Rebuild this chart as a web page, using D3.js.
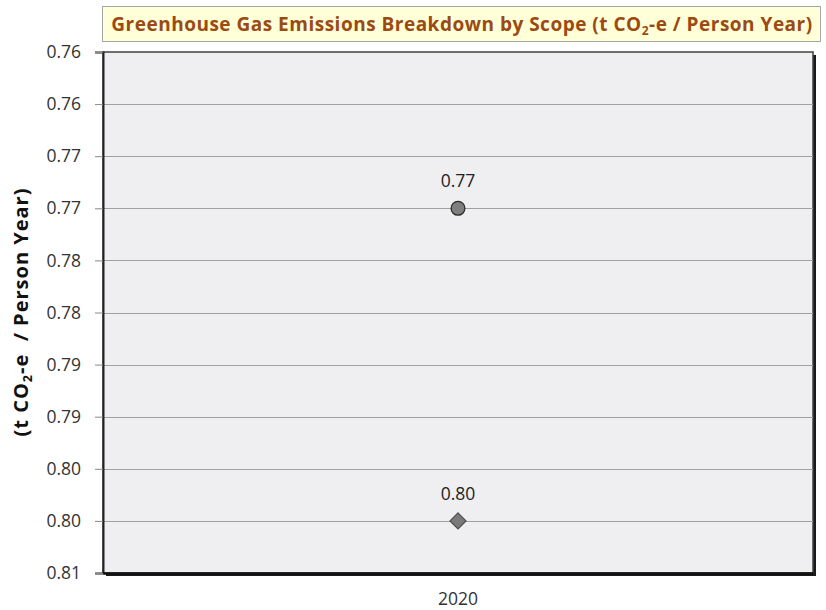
<!DOCTYPE html>
<html>
<head>
<meta charset="utf-8">
<script src="https://cdn.jsdelivr.net/npm/d3@7"></script>
<style>
  body { margin: 0; background: #fff; }
  svg { display: block; font-family: "Open Sans", "DejaVu Sans", sans-serif; }
</style>
</head>
<body>
<div id="chart"></div>
<script>
// Data
const years = ['2020'];
const scopeNames = ['Scope A', 'Scope B'];
const scopeValues = [0.775, 0.805];
const scopeLabels = ['0.77', '0.80'];
const scopeShapes = ['circle', 'diamond'];
const tickValues = [0.76, 0.765, 0.77, 0.775, 0.78, 0.785, 0.79, 0.795, 0.80, 0.805, 0.81];
const tickLabels = ['0.76', '0.76', '0.77', '0.77', '0.78', '0.78', '0.79', '0.79', '0.80', '0.80', '0.81'];

const width = 826, height = 610;
const margin = { top: 52, right: 13, bottom: 37, left: 103 };
const plotW = width - margin.left - margin.right;
const plotH = height - margin.top - margin.bottom;

const svg = d3.select('#chart')
  .append('svg')
  .attr('width', width)
  .attr('height', height);

// Title box
const titleG = svg.append('g');
titleG.append('rect')
  .attr('x', 102.5).attr('y', 6.5)
  .attr('width', 718).attr('height', 35)
  .attr('fill', '#ffffd8')
  .attr('stroke', '#a6a6a6');
const title = titleG.append('text')
  .attr('x', 462).attr('y', 31)
  .attr('text-anchor', 'middle')
  .attr('fill', '#9b4a12')
  .attr('font-weight', 'bold')
  .attr('font-size', 19)
  .attr('letter-spacing', 0.5)
  .attr('font-family', '"Open Sans", sans-serif');
title.append('tspan').text('Greenhouse Gas Emissions Breakdown by Scope (t CO');
title.append('tspan').attr('font-size', 12).attr('dy', 4).text('2');
title.append('tspan').attr('dy', -4).text('-e / Person Year)');

const g = svg.append('g')
  .attr('transform', `translate(${margin.left},${margin.top})`);

const x = d3.scaleBand().domain(years).range([0, plotW]);
const y = d3.scaleLinear().domain([0.76, 0.81]).range([0, plotH]);

// Plot background with shadow
g.append('rect')
  .attr('x', 3).attr('y', 3)
  .attr('width', plotW).attr('height', plotH)
  .attr('fill', '#1a1a1a');
g.append('rect')
  .attr('width', plotW).attr('height', plotH)
  .attr('fill', '#efeff2')
  .attr('stroke', '#404040')
  .attr('stroke-width', 1.5);

// Gridlines
g.append('g')
  .selectAll('line')
  .data(tickValues.slice(1, -1))
  .join('line')
  .attr('x1', 0).attr('x2', plotW)
  .attr('y1', d => Math.round(y(d)) + 0.5)
  .attr('y2', d => Math.round(y(d)) + 0.5)
  .attr('stroke', '#a0a0a0');

// Y axis
const yAxis = g.append('g')
  .call(d3.axisLeft(y)
    .tickValues(tickValues)
    .tickFormat((d, i) => tickLabels[i])
    .tickSize(8)
    .tickPadding(14));
yAxis.select('.domain').attr('stroke', '#222').attr('stroke-width', 2);
yAxis.selectAll('.tick line').attr('stroke', '#888');
yAxis.selectAll('.tick text')
  .attr('fill', '#333')
  .attr('font-size', 17.5)
  .attr('font-family', '"Open Sans", sans-serif');

// X axis
const xAxis = g.append('g')
  .attr('transform', `translate(0,${plotH})`)
  .call(d3.axisBottom(x).tickSize(0).tickPadding(20));
xAxis.select('.domain').attr('stroke', '#111').attr('stroke-width', 2.5);
xAxis.selectAll('.tick text')
  .attr('fill', '#333')
  .attr('font-size', 17.5)
  .attr('font-family', '"Open Sans", sans-serif');

// Y axis title
const yTitle = svg.append('text')
  .attr('transform', 'translate(28,312) rotate(-90)')
  .attr('text-anchor', 'middle')
  .attr('font-weight', 'bold')
  .attr('font-size', 20)
  .attr('letter-spacing', 1)
  .attr('fill', '#111')
  .attr('font-family', '"Open Sans", sans-serif');
yTitle.append('tspan').text('(t CO');
yTitle.append('tspan').attr('font-size', 12.5).attr('dy', 4).text('2');
yTitle.append('tspan').attr('dy', -4).attr('xml:space', 'preserve').text('-e  / Person Year)');

// Points
const cx = x(years[0]) + x.bandwidth() / 2;
const pts = g.append('g')
  .selectAll('g')
  .data(scopeValues.map((v, i) => ({ v, label: scopeLabels[i], shape: scopeShapes[i], name: scopeNames[i] })))
  .join('g')
  .attr('transform', d => `translate(${cx},${y(d.v)})`);

pts.append('path')
  .attr('d', d => d.shape === 'circle'
    ? d3.symbol(d3.symbolCircle, 150)()
    : 'M0,-8L8,0L0,8L-8,0Z')
  .attr('fill', d => d.shape === 'circle' ? '#7f7f7f' : '#7a7a7a')
  .attr('stroke', d => d.shape === 'circle' ? '#2a2a2a' : '#505050')
  .attr('stroke-width', 1.3);

pts.append('text')
  .attr('y', -21)
  .attr('text-anchor', 'middle')
  .attr('font-size', 17.5)
  .attr('fill', '#222')
  .text(d => d.label);
</script>
</body>
</html>
